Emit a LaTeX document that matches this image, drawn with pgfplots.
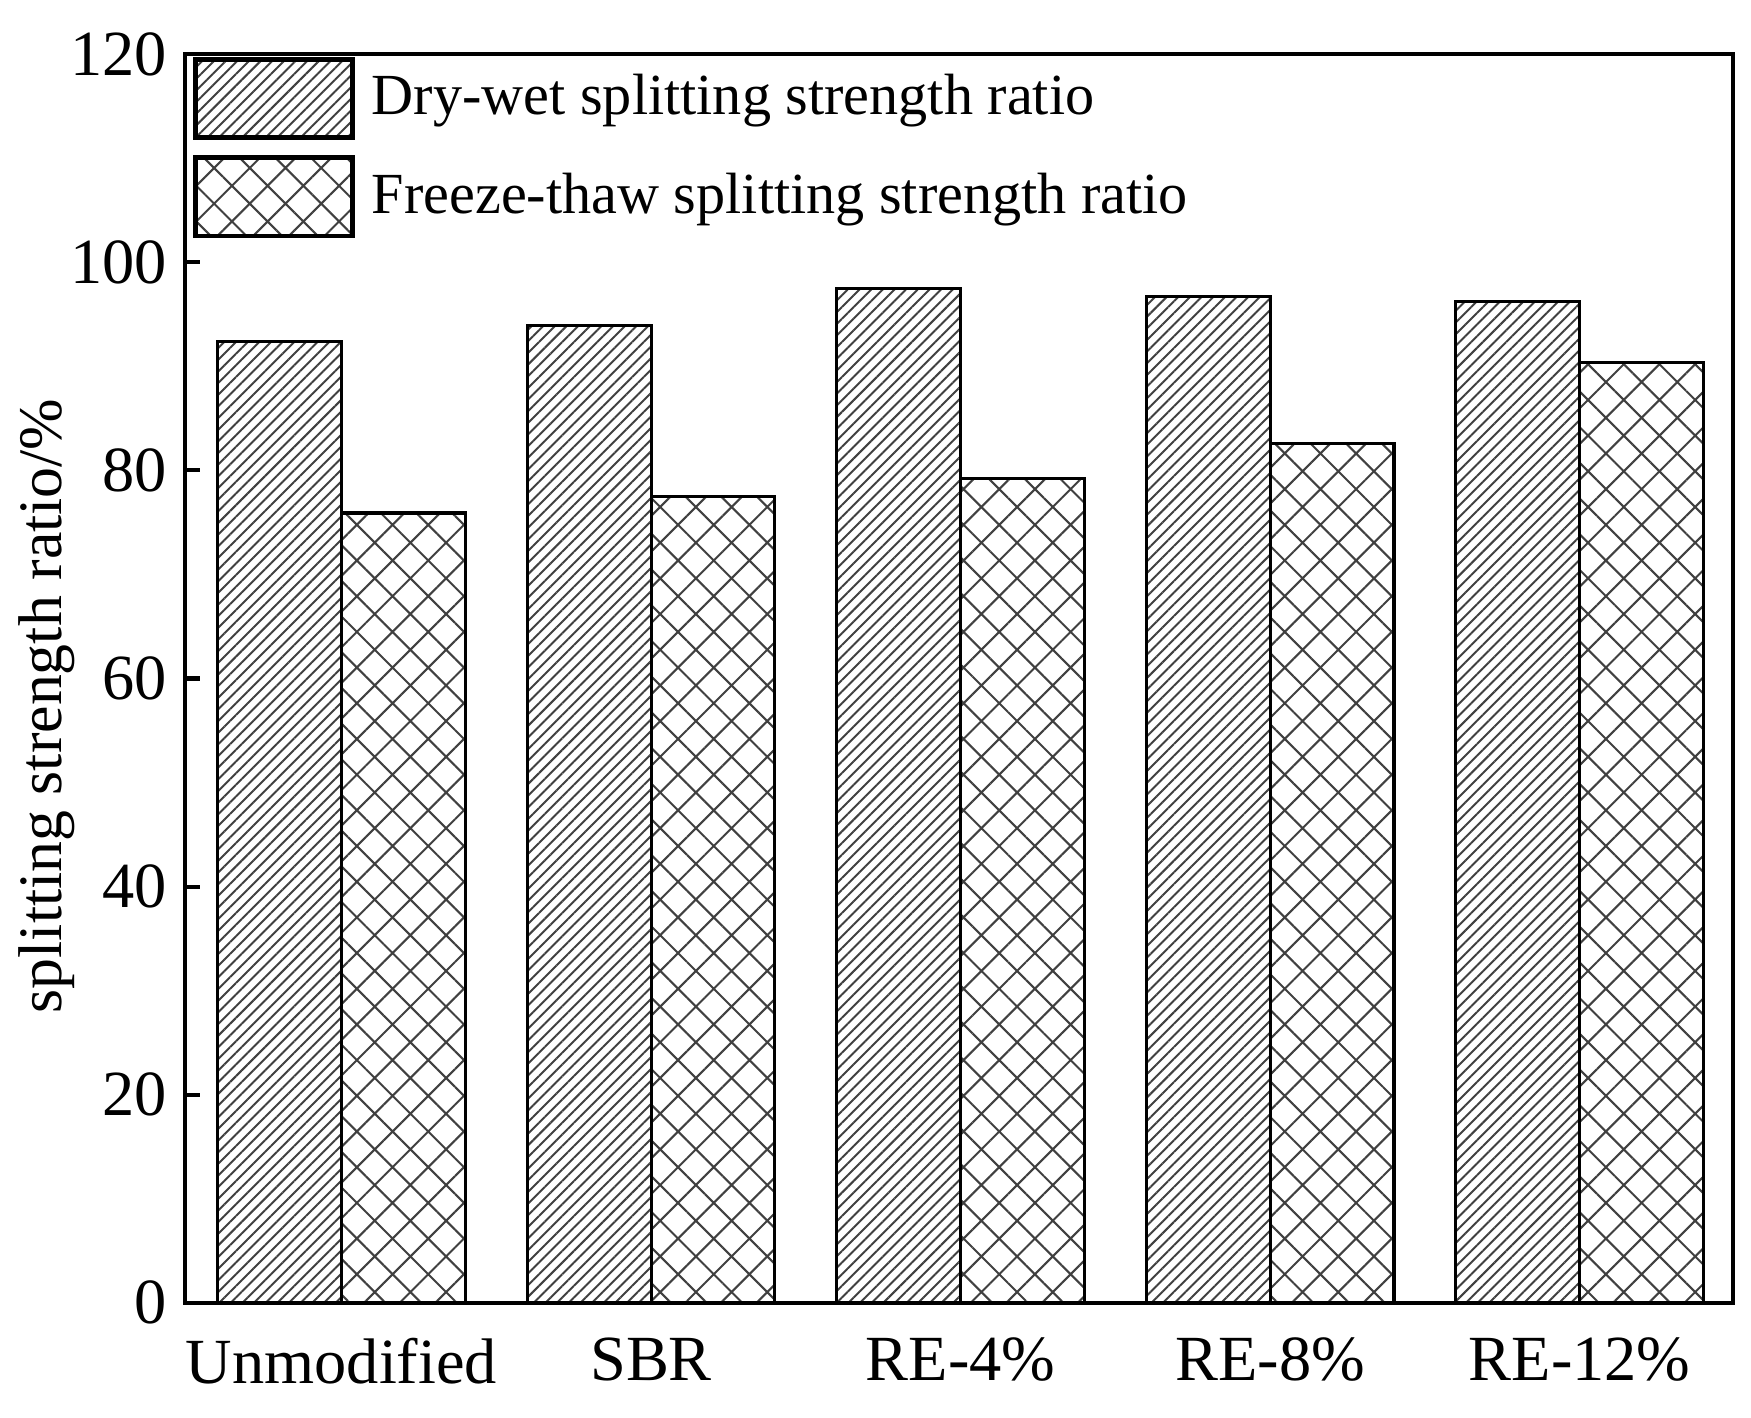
\documentclass[border=0pt]{standalone}
\usepackage{fontspec}
\setmainfont{Liberation Serif}
\usepackage{pgfplots}
\pgfplotsset{compat=1.18}
\usetikzlibrary{patterns.meta}

\begin{document}
\begin{tikzpicture}
\useasboundingbox (-35.9pt,-22.16pt) rectangle (304.1pt,252.99pt);
\begin{axis}[
  scale only axis,
  width=300.6pt, height=242.5pt,
  ybar,
  xmin=-0.506, xmax=4.495,
  ymin=0, ymax=120,
  ytick={0,20,...,120},
  xtick=data,
  xticklabels={Unmodified,SBR,RE-4\%,RE-8\%,RE-12\%},
  x tick style={draw=none},
  x tick label style={yshift=-3.3pt},
  ytick pos=left,
  tick align=inside,
  major tick length=3pt,
  axis line style={line width=0.8pt},
  y tick style={line width=0.8pt, black},
  tick label style={font=\fontsize{12.5}{14}\selectfont, /pgf/number format/assume math mode=true},
  ylabel={splitting strength ratio/\%},
  ylabel style={font=\fontsize{12}{14}\selectfont, inner sep=0pt, at={(axis description cs:-0.0705,0.478)}, anchor=south},
  legend style={at={(axis description cs:0,1)}, anchor=north west, draw=none, fill=none,
    inner sep=0pt, outer sep=0pt, xshift=1.6pt, yshift=-0.6pt, row sep=3pt, column sep=3.3pt,
    nodes={inner sep=0pt}, font=\fontsize{11.3}{13}\selectfont},
  legend cell align=left,
  legend image code/.code={\draw[#1, line width=0.9pt] (0pt,-7.6pt) rectangle (30.5pt,7.6pt);},
]
\addplot[draw=black, line width=0.6pt, pattern={Lines[angle=45,distance=1.6pt,line width=0.38pt]}, pattern color=black!75, bar width=0.4, bar shift=-0.2]
  coordinates {(0,92.4) (1,93.9) (2,97.5) (3,96.7) (4,96.2)};
\addlegendentry{Dry-wet splitting strength ratio}
\addplot[draw=black, line width=0.6pt, pattern={Hatch[angle=45,distance=4.9pt,line width=0.4pt]}, pattern color=black!75, bar width=0.4, bar shift=0.2]
  coordinates {(0,75.9) (1,77.5) (2,79.2) (3,82.6) (4,90.4)};
\addlegendentry{Freeze-thaw splitting strength ratio}
\end{axis}
\end{tikzpicture}
\end{document}
